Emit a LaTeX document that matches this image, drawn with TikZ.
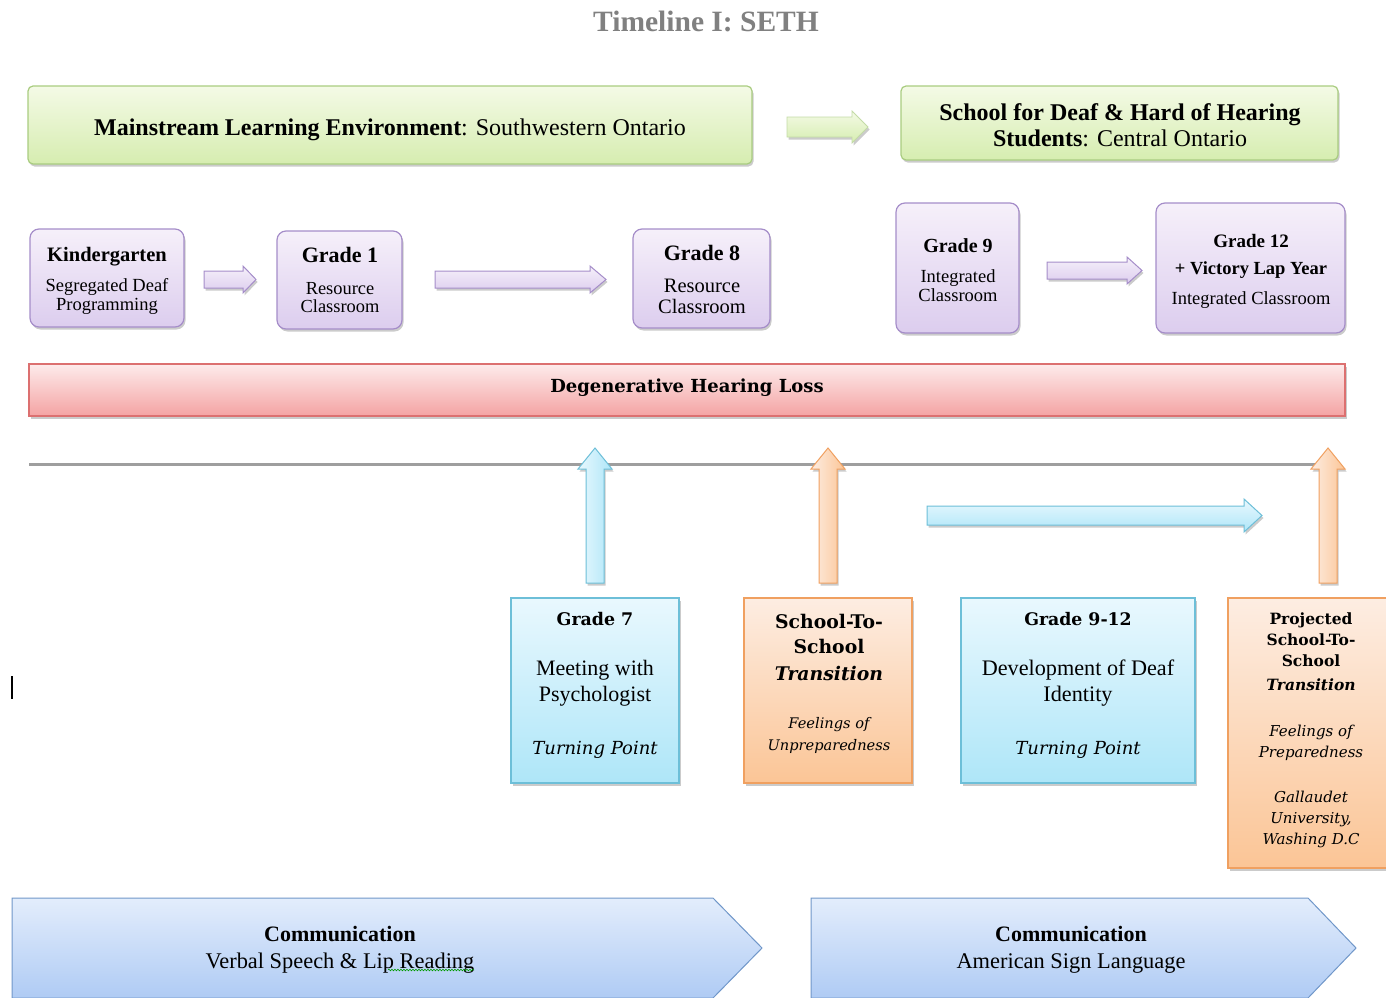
\documentclass[tikz,border=0pt]{standalone}
\usepackage{fontspec}
\setmainfont{Liberation Serif}
\newfontfamily\dvs{DejaVu Serif}
\usetikzlibrary{shadows,decorations.pathmorphing}

\definecolor{greenA}{HTML}{F4FAE6}
\definecolor{greenB}{HTML}{D6EDB0}
\definecolor{greenD}{HTML}{A9CC80}
\definecolor{purpA}{HTML}{F6F0FA}
\definecolor{purpB}{HTML}{DCCDEE}
\definecolor{purpD}{HTML}{A58DC9}
\definecolor{redA}{HTML}{FDEBEB}
\definecolor{redB}{HTML}{F4A3A3}
\definecolor{redD}{HTML}{DC7070}
\definecolor{blueA}{HTML}{E9F8FE}
\definecolor{blueB}{HTML}{AEE6F8}
\definecolor{blueD}{HTML}{6DBFD8}
\definecolor{orA}{HTML}{FDEDE2}
\definecolor{orB}{HTML}{FBC596}
\definecolor{orD}{HTML}{F0A060}
\definecolor{comA}{HTML}{E3EDFC}
\definecolor{comB}{HTML}{AFCBF4}
\definecolor{comD}{HTML}{7097C9}
\definecolor{titlegray}{HTML}{808080}

% font size with a line skip; line skip of a node is set by its font key
\newcommand\fs[2]{\fontsize{#1}{#2}\selectfont}
\newcommand\sz[1]{\fontsize{#1}{1.2\dimexpr#1pt\relax}\selectfont}

\tikzset{
  soft/.style={drop shadow={shadow xshift=1.5pt,shadow yshift=-2.5pt,fill=black!45,opacity=0.45}},
  box/.style={draw,line width=1.2pt,inner sep=0pt,soft},
  greenbox/.style={box,rounded corners=5pt,draw=greenD,top color=greenA,bottom color=greenB},
  purplebox/.style={box,rounded corners=9pt,draw=purpD,top color=purpA,bottom color=purpB},
  redbar/.style={box,draw=redD,top color=redA,bottom color=redB},
  bluebox/.style={box,draw=blueD,top color=blueA,bottom color=blueB},
  orangebox/.style={box,draw=orD,top color=orA,bottom color=orB},
  greenarrow/.style={draw=greenD!70,line width=0.8pt,top color=greenA,bottom color=greenB,soft},
  purplearrow/.style={draw=purpD,line width=1pt,top color=purpA,bottom color=purpB,soft},
  bluearrow/.style={draw=blueD,line width=1pt,left color=blueA,right color=blueB,soft},
  bluearrowh/.style={draw=blueD,line width=1pt,top color=blueA,bottom color=blueB,soft},
  orangearrow/.style={draw=orD,line width=1pt,left color=orA,right color=orB,soft},
  combox/.style={draw=comD,line width=1pt,top color=comA,bottom color=comB},
  txt/.style={align=center,inner sep=0pt,anchor=north},
  line/.style={inner sep=0pt,anchor=base},
}

\begin{document}
\begin{tikzpicture}[x=1pt,y=-1pt]
\useasboundingbox (0,0) rectangle (1386,998);

% title
\node[line,text=titlegray] (title) at (706,32) {\sz{29.5}\bfseries Timeline I: SETH};

% settings
\node[greenbox,minimum width=724,minimum height=78] (main) at (390,125) {};
\node[line] (maintxt) at (390,135)
  {\sz{24}\textbf{Mainstream Learning Environment}: Southwestern Ontario};
\node[greenbox,minimum width=437,minimum height=74] (deaf) at (1119.5,123) {};
\node[txt,font=\fs{24}{26}] (deaftxt) at (1120,103)
  {\textbf{School for Deaf \& Hard of Hearing}\\ \textbf{Students}: Central Ontario};
\draw[greenarrow] (787,117) -- (852,117) -- (852,111) -- (868,127) -- (852,143)
  -- (852,137) -- (787,137) -- cycle;

% grades
\node[purplebox,minimum width=154,minimum height=98] (kg) at (107,278) {};
\node[txt,font=\fs{18.5}{19}] (kgtxt) at (107,247.5)
  {\sz{20.5}\bfseries Kindergarten\\[11pt] \sz{18.5}Segregated Deaf\\ \sz{18.5}Programming};
\node[purplebox,minimum width=125,minimum height=98] (g1) at (339.5,280) {};
\node[txt,font=\fs{18.4}{18}] (g1txt) at (340,247)
  {\sz{22}\bfseries Grade 1\\[14pt] \sz{18.4}Resource\\ \sz{18.4}Classroom};
\node[purplebox,minimum width=137,minimum height=99] (g8) at (701.5,278.5) {};
\node[txt,font=\fs{20.5}{21}] (g8txt) at (702,245)
  {\sz{22}\bfseries Grade 8\\[11pt] \sz{20.5}Resource\\ \sz{20.5}Classroom};
\node[purplebox,minimum width=123,minimum height=130] (g9) at (957.5,268) {};
\node[txt,font=\fs{18.5}{19}] (g9txt) at (958,238)
  {\sz{20}\bfseries Grade 9\\[11pt] \sz{18.5}Integrated\\ \sz{18.5}Classroom};
\node[purplebox,minimum width=189,minimum height=130] (g12) at (1250.5,268) {};
\node[txt,font=\fs{18.5}{27}] (g12txt) at (1251,234)
  {\sz{19}\bfseries Grade 12\\ \sz{18.5}\bfseries + Victory Lap Year\\[3pt]
   \sz{18.5}Integrated Classroom};

\draw[purplearrow] (204,271) -- (243,271) -- (243,266) -- (256,279.5) -- (243,293)
  -- (243,288) -- (204,288) -- cycle;
\draw[purplearrow] (435,271) -- (590,271) -- (590,266) -- (606,279.5) -- (590,293)
  -- (590,288) -- (435,288) -- cycle;
\draw[purplearrow] (1047,262) -- (1127,262) -- (1127,257) -- (1142,270.5) -- (1127,284)
  -- (1127,279) -- (1047,279) -- cycle;

% hearing loss
\node[redbar,minimum width=1316,minimum height=52] (loss) at (687,390) {};
\node[line] (losstxt) at (687,392.5) {\dvs\sz{18}\bfseries Degenerative Hearing Loss};

% time line
\coordinate (tl0) at (29,464);
\coordinate (tl1) at (1320,464);
\draw[line width=3pt,black!38] (tl0) -- (tl1);

% up arrows and the long arrow
\draw[bluearrow] (586,583) -- (586,469) -- (578,469) -- (595,448) -- (612,469)
  -- (604,469) -- (604,583) -- cycle;
\draw[orangearrow] (819,583) -- (819,469) -- (811,469) -- (828,448) -- (845,469)
  -- (837,469) -- (837,583) -- cycle;
\draw[orangearrow] (1319,583) -- (1319,469) -- (1311,469) -- (1328,448) -- (1345,469)
  -- (1337,469) -- (1337,583) -- cycle;
\draw[bluearrowh] (927,506) -- (1244,506) -- (1244,499) -- (1262,515.5) -- (1244,532)
  -- (1244,525) -- (927,525) -- cycle;

% events
\node[bluebox,minimum width=168,minimum height=185] (g7) at (595,690.5) {};
\node[txt,font=\fs{22}{26}] (g7txt) at (595,612.5)
  {\dvs\sz{17.4}\bfseries Grade 7\\[24pt]
   \sz{22}Meeting with\\ \sz{22}Psychologist\\[27pt]
   \dvs\sz{18}\itshape Turning Point};

\node[orangebox,minimum width=168,minimum height=185] (s2s) at (828,690.5) {};
\node[txt,font=\fs{18.8}{25}] (s2stxt) at (829,614)
  {\dvs\sz{18.8}\bfseries School-To-\\ \dvs\sz{18.8}\bfseries School\\[2pt]
   \dvs\sz{18.8}\bfseries\itshape Transition\\[23pt]
   \dvs\sz{14.6}\itshape Feelings of\\[-3pt] \dvs\sz{14.6}\itshape Unpreparedness};

\node[bluebox,minimum width=234,minimum height=185] (g912) at (1078,690.5) {};
\node[txt,font=\fs{22}{26}] (g912txt) at (1078,612.5)
  {\dvs\sz{17.3}\bfseries Grade 9-12\\[24pt]
   \sz{22.2}Development of Deaf\\ \sz{22.2}Identity\\[27pt]
   \dvs\sz{18}\itshape Turning Point};

\node[orangebox,minimum width=170,minimum height=270] (proj) at (1313,733) {};
\node[txt,font=\fs{15}{21}] (projtxt) at (1311,612.5)
  {\dvs\sz{15.5}\bfseries Projected\\ \dvs\sz{15.5}\bfseries School-To-\\
   \dvs\sz{15.5}\bfseries School\\[3pt] \dvs\sz{15.5}\bfseries\itshape Transition\\[25pt]
   \dvs\sz{15}\itshape Feelings of\\ \dvs\sz{15}\itshape Preparedness\\[24pt]
   \dvs\sz{15}\itshape Gallaudet\\ \dvs\sz{15}\itshape University,\\
   \dvs\sz{15}\itshape Washing D.C};

% text cursor mark
\draw[line width=1.6pt] (12,676) -- (12,699);

% communication
\draw[combox] (12,898) -- (713,898) -- (762,948) -- (713,998) -- (12,998) -- cycle;
\node[txt,font=\fs{22}{27}] (comm1) at (340,926)
  {\sz{22}\bfseries Communication\\ \sz{22.4}Verbal Speech \& Lip Reading};
\draw[green!60!black,line width=0.6pt,decorate,
  decoration={snake,amplitude=0.8pt,segment length=3pt}] (388,970) -- (474,970);
\draw[combox] (811,898) -- (1308,898) -- (1356,948) -- (1308,998) -- (811,998) -- cycle;
\node[txt,font=\fs{22}{27}] (comm2) at (1071,926)
  {\sz{22}\bfseries Communication\\ \sz{22.4}American Sign Language};
\end{tikzpicture}
\end{document}
